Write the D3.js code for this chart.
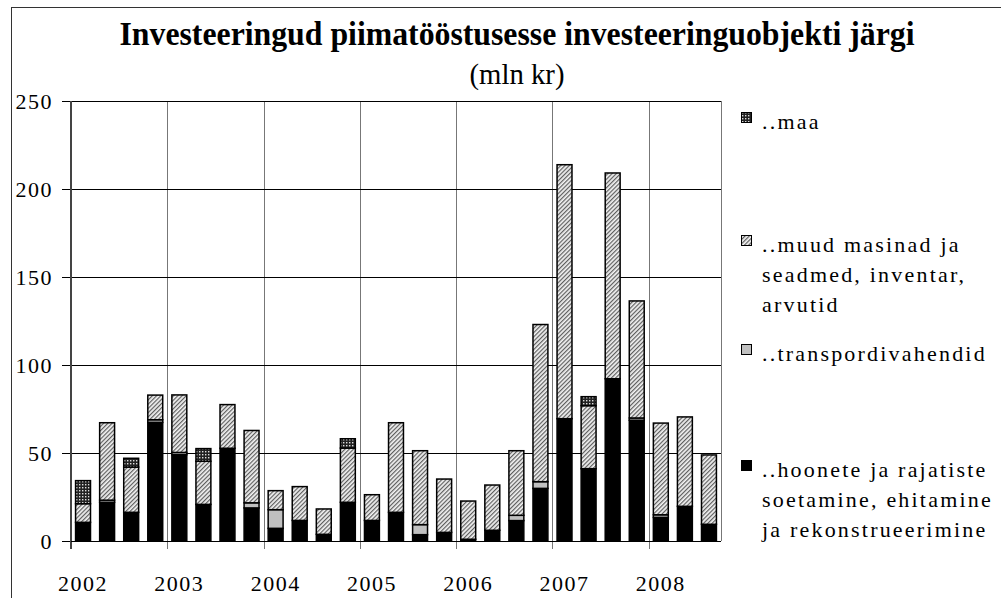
<!DOCTYPE html>
<html>
<head>
<meta charset="utf-8">
<script src="https://cdn.jsdelivr.net/npm/d3@7"></script>
<style>
  body { margin: 0; background: #fff; }
  svg text { font-family: "Liberation Serif", "Times New Roman", "DejaVu Serif", serif; fill: #000; }
</style>
</head>
<body>
<div id="chart"></div>
<script>
// Years shown on the x axis, one label per 4 quarters
const years = ["2002", "2003", "2004", "2005", "2006", "2007", "2008"];
const quarters = ["I", "II", "III", "IV"];

// 2002 I .. 2008 III  (27 quarters)
const periods = [];
years.forEach(y => quarters.forEach(q => periods.push(y + " " + q)));
periods.splice(27);

// mln kr
const hoonete   = [10.6, 22, 16.3, 67.4, 49, 20.8, 52.7, 18.8, 7.2, 11.7, 3.8, 22, 11.7, 16.3, 3.6, 4.9, 1, 6.1, 11.6, 29.9, 69.5, 41.1, 92.2, 68.6, 13.4, 19.7, 9.5];
const transport = [0, 1.2, 0, 1.5, 1.3, 0, 0, 2.9, 10.6, 0, 0, 0, 0, 0, 5.7, 0, 0, 0, 3, 3.8, 0, 0, 0, 1.3, 1.5, 0, 0];
const muud      = [10.6, 44, 25.7, 14, 32.7, 24.5, 24.8, 41.1, 10.8, 19.2, 14.4, 30.8, 14.6, 50.9, 42, 30.3, 21.7, 25.7, 36.7, 89.3, 144.3, 35.8, 116.9, 66.5, 52.1, 50.8, 39.4];
const maa       = [13.1, 0, 5, 0, 0, 7.2, 0, 0, 0, 0, 0, 5.3, 0, 0, 0, 0, 0, 0, 0, 0, 0, 5.1, 0, 0, 0, 0, 0];

const yTicks = [0, 50, 100, 150, 200, 250];

const seriesKeys = ["hoonete", "transport", "muud", "maa"];
const legendLabels = {
  maa: ["..maa"],
  muud: ["..muud masinad ja", "seadmed, inventar,", "arvutid"],
  transport: ["..transpordivahendid"],
  hoonete: ["..hoonete ja rajatiste", "soetamine, ehitamine", "ja rekonstrueerimine"]
};

const table = periods.map((p, i) => ({
  period: p, hoonete: hoonete[i], transport: transport[i], muud: muud[i], maa: maa[i]
}));

const width = 1001, height = 598;
const serif = "'Liberation Serif', 'Times New Roman', 'DejaVu Serif', serif";

const svg = d3.select("#chart")
  .append("svg")
    .attr("width", width)
    .attr("height", height)
    .attr("viewBox", [0, 0, width, height]);

/* patterns for the fills */
const defs = svg.append("defs");
const hatch = defs.append("pattern")
  .attr("id", "hatch")
  .attr("patternUnits", "userSpaceOnUse")
  .attr("width", 3).attr("height", 3)
  .attr("patternTransform", "rotate(45)");
hatch.append("rect").attr("width", 3).attr("height", 3).attr("fill", "#f2f2f2");
hatch.append("rect").attr("width", 1.2).attr("height", 3).attr("fill", "#5e5e5e");

const check = defs.append("pattern")
  .attr("id", "check")
  .attr("patternUnits", "userSpaceOnUse")
  .attr("width", 3).attr("height", 3);
check.append("rect").attr("width", 3).attr("height", 3).attr("fill", "#222");
check.append("rect").attr("x", 1).attr("y", 1).attr("width", 1.4).attr("height", 1.4).attr("fill", "#ddd");

const fills = {hoonete: "#000", transport: "#c0c0c0", muud: "url(#hatch)", maa: "url(#check)"};

/* outer chart border */
svg.append("rect")
  .attr("x", 11.5).attr("y", 7.5)
  .attr("width", 1020).attr("height", 620)
  .attr("fill", "none")
  .attr("stroke", "#333")
  .attr("stroke-width", 1);

/* scales */
const xScale = d3.scaleBand()
  .domain(periods)
  .range([71, 721])
  .paddingInner(0.38)
  .paddingOuter(0.19);

const yScale = d3.scaleLinear()
  .domain([0, 250])
  .range([541, 101]);

const step = xScale.step();
const x0 = xScale.range()[0];

/* vertical year gridlines */
svg.append("g")
  .selectAll("line")
  .data(years)
  .join("line")
    .attr("x1", (d, i) => Math.round(x0 + step * 4 * i) + 0.5)
    .attr("x2", (d, i) => Math.round(x0 + step * 4 * i) + 0.5)
    .attr("y1", yScale(250))
    .attr("y2", yScale(0) + 8)
    .attr("stroke", "#777")
    .attr("stroke-width", 1);

// right border of plot area
svg.append("line")
  .attr("x1", 721.5).attr("x2", 721.5)
  .attr("y1", yScale(250)).attr("y2", yScale(0))
  .attr("stroke", "#777");

/* y axis with horizontal gridlines */
const yAxis = d3.axisLeft(yScale)
  .tickValues(yTicks)
  .tickSize(-(721 - 71))
  .tickPadding(18)
  .tickSizeOuter(0);

const yGroup = svg.append("g")
  .attr("transform", `translate(${x0}, 0)`)
  .call(yAxis)
  .attr("font-family", serif)
  .attr("font-size", 22);
yGroup.select(".domain").remove();
yGroup.selectAll(".tick line")
  .attr("stroke", "#000")
  .attr("x1", -9);
yGroup.selectAll(".tick text")
  .attr("font-family", serif)
  .style("letter-spacing", "1.5px")
  .attr("dy", "0.35em");

/* stacked bars */
const stack = d3.stack().keys(seriesKeys);
const stacked = stack(table);

svg.append("g")
  .attr("class", "bars")
  .selectAll("g")
  .data(stacked)
  .join("g")
    .attr("fill", d => fills[d.key])
  .selectAll("rect")
  .data(d => d.filter(s => s[1] - s[0] > 0))
  .join("rect")
    .attr("x", d => xScale(d.data.period))
    .attr("y", d => yScale(d[1]))
    .attr("width", xScale.bandwidth())
    .attr("height", d => yScale(d[0]) - yScale(d[1]))
    .attr("stroke", "#000")
    .attr("stroke-width", 1.5);

/* left axis line and baseline */
svg.append("line")
  .attr("x1", x0).attr("x2", x0)
  .attr("y1", yScale(250)).attr("y2", yScale(0) + 8)
  .attr("stroke", "#444").attr("stroke-width", 2);
svg.append("line")
  .attr("x1", x0).attr("x2", 721)
  .attr("y1", yScale(0) + 0.5).attr("y2", yScale(0) + 0.5)
  .attr("stroke", "#000").attr("stroke-width", 1.2);

/* year labels, centred on first quarter */
svg.append("g")
  .selectAll("text")
  .data(years)
  .join("text")
    .attr("x", d => xScale(d + " I") + xScale.bandwidth() / 2)
    .attr("y", 591)
    .attr("text-anchor", "middle")
    .attr("font-family", serif)
    .attr("font-size", 22)
    .style("letter-spacing", "1.5px")
    .text(d => d);

/* title */
svg.append("text")
  .attr("x", 517).attr("y", 45)
  .attr("text-anchor", "middle")
  .attr("textLength", 795)
  .attr("lengthAdjust", "spacingAndGlyphs")
  .attr("font-family", serif)
  .attr("font-size", 34)
  .attr("font-weight", "bold")
  .text("Investeeringud piimatööstusesse investeeringuobjekti järgi");

svg.append("text")
  .attr("x", 517).attr("y", 84)
  .attr("text-anchor", "middle")
  .attr("textLength", 95)
  .attr("lengthAdjust", "spacingAndGlyphs")
  .attr("font-family", serif)
  .attr("font-size", 29)
  .text("(mln kr)");

/* legend */
const legendTop = {maa: 129, muud: 252, transport: 361, hoonete: 477};
const legend = svg.append("g")
  .selectAll("g")
  .data(["maa", "muud", "transport", "hoonete"])
  .join("g")
    .attr("transform", d => `translate(741, ${legendTop[d]})`);

legend.append("rect")
  .attr("x", 0.5).attr("y", -16.5)
  .attr("width", 10).attr("height", 10)
  .attr("fill", d => fills[d])
  .attr("stroke", "#000")
  .attr("stroke-width", 1);

legend.append("text")
  .attr("x", 21)
  .attr("font-family", serif)
  .attr("font-size", 22)
  .style("letter-spacing", "2.2px")
  .selectAll("tspan")
  .data(d => legendLabels[d])
  .join("tspan")
    .attr("x", 21)
    .attr("dy", (d, i) => i === 0 ? 0 : 30)
    .text(d => d);
</script>
</body>
</html>
